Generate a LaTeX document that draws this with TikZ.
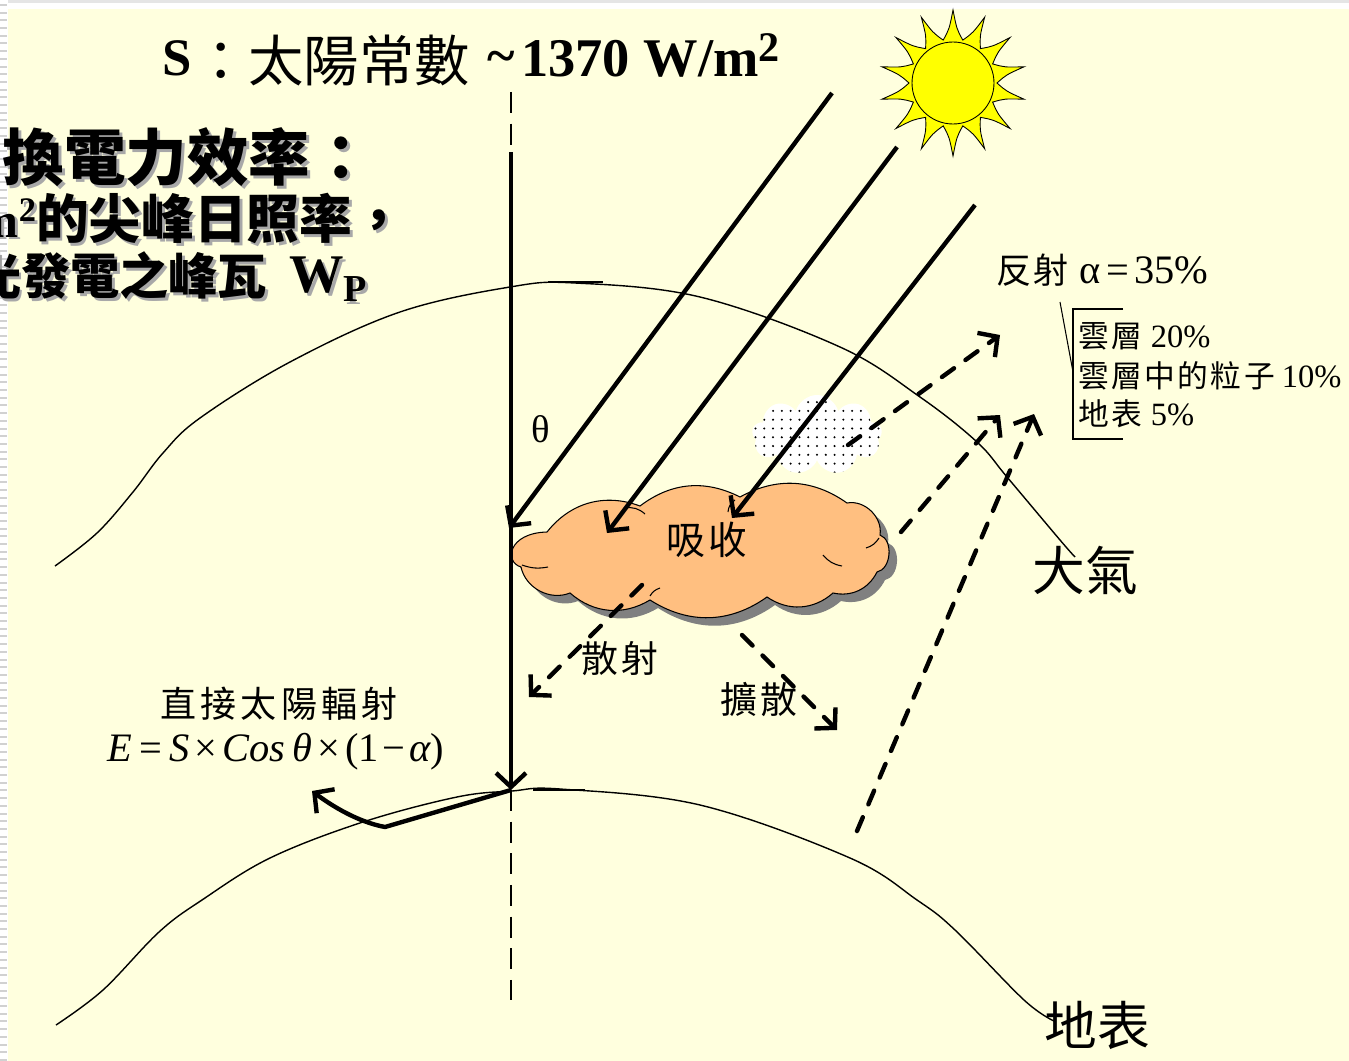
\documentclass[tikz,border=0pt]{standalone}
\usepackage{fontspec}
\setmainfont{Liberation Serif}
\newfontfamily\cjk{Noto Sans CJK TC}[LetterSpace=8]
\newfontfamily\cjkw{Noto Sans CJK TC}[LetterSpace=12]
\newfontfamily\cjkt{Noto Sans CJK TC}
\usetikzlibrary{arrows.meta,shapes.symbols,patterns.meta}
\definecolor{paper}{RGB}{255,255,222}
\definecolor{cloudfill}{RGB}{255,191,128}
\definecolor{cloudshadow}{RGB}{128,128,128}
\definecolor{txtshadow}{RGB}{168,168,168}
\definecolor{sunyellow}{RGB}{255,255,0}
\newcommand\fs[1]{\fontsize{#1}{#1}\selectfont}
% text with a soft grey drop shadow: name, position, anchor, content
\newcommand\shadowed[4]{%
  \node[lbl, anchor=#3, text=txtshadow, xshift=0.06cm, yshift=-0.06cm] (#1s) at #2 {#4};
  \node[lbl, anchor=#3] (#1) at #2 {#4};}
% outline of the absorbing cloud, bump by bump (clockwise)
\newcommand\absorbcloud{(547,532) to[bend left=36] (640,506) to[bend left=32] (740,497)
  to[bend left=32] (847,503) to[bend left=55] (880,535) to[bend left=75] (877,572)
  to[bend left=38] (833,593) to[bend left=38] (767,597) to[bend left=34] (650,600)
  to[bend left=36] (570,593) to[bend left=50] (521,567)
  .. controls (504,562) and (508,533) .. (547,532) -- cycle}
\tikzset{
  lbl/.style={inner sep=0pt, outer sep=0pt},
  thincurve/.style={line width=0.8pt},
  axisdash/.style={line width=0.8pt, dash pattern=on 12pt off 6pt},
  barb/.tip={Straight Barb[length=8pt,width=17pt]},
  ray/.style={line width=2.5pt, -barb},
  dray/.style={line width=2.5pt, -barb, dash pattern=on 8.5pt off 8pt, line cap=round},
  puffy/.style={cloud, cloud ignores aspect, inner sep=0pt},
  crease/.style={line width=0.6pt},
}
\begin{document}
\begin{tikzpicture}[x=0.02cm,y=-0.02cm]
\useasboundingbox (0,0) rectangle (1349,1061);
\clip (0,0) rectangle (1349,1061);
% paper and window frame
\fill[paper] (0,0) rectangle (1349,1061);
\fill[white] (0,0) rectangle (1349,9);
\fill[black!10] (0,0) rectangle (1349,3);
\fill[white] (0,0) rectangle (8,1061);
\foreach \yy in {4,11.7,...,1061} \fill[black!18] (0,\yy) rectangle (7,\yy+2);

% sun
\begin{scope}[shift={(953,83)}]
  \filldraw[fill=sunyellow, draw=black, line width=0.5pt]
    (-90-12.857:44) \foreach \k in {0,...,13} {
      .. controls ({-90+\k*25.714-4}:54) .. ({-90+\k*25.714}:73)
      .. controls ({-90+\k*25.714+4}:54) .. ({-90+\k*25.714+12.857}:44) } -- cycle;
  \filldraw[fill=sunyellow, draw=black, line width=0.5pt] (0,0) circle[radius=41];
\end{scope}

% atmosphere and ground outlines
\draw[thincurve] plot[smooth, tension=0.6] coordinates {(55,566) (97,533) (133,492) (163,453) (200,418) (290,362) (400,312) (510,287) (575,283) (700,297) (840,347) (920,397) (977,442) (1007,477) (1060,540) (1075,557)};
\draw[line width=1.3pt] (548,282) -- (603,282);
\draw[thincurve] plot[smooth, tension=0.6] coordinates {(56,1025) (103,990) (159,932) (202,900) (270,858) (363,822) (457,797) (512,791) (560,789) (700,805) (850,858) (917,900) (955,930) (1024,1000) (1054,1021)};
\draw[line width=1.3pt] (533,790) -- (585,790);

% named points
\coordinate (vtop) at (511,92);
\coordinate (vdash) at (511,148);
\coordinate (vs) at (511,152);
\coordinate (vg) at (511,790);
\coordinate (vbot) at (511,1000);
\coordinate (r1a) at (832,93);  \coordinate (r1b) at (509,528);
\coordinate (r2a) at (897,147); \coordinate (r2b) at (607,533);
\coordinate (r3a) at (975,205); \coordinate (r3b) at (732,518);
\coordinate (fa0) at (848,445); \coordinate (fa1) at (1000,335);
\coordinate (fb0) at (901,532); \coordinate (fb1) at (1000,415);
\coordinate (fc0) at (857,831); \coordinate (fc1) at (1034,414);
\coordinate (sc0) at (642,585); \coordinate (sc1) at (529,697);
\coordinate (df0) at (742,635); \coordinate (df1) at (837,730);
\coordinate (gbend) at (385,827); \coordinate (gend) at (312,791);
\coordinate (brA) at (1123,309); \coordinate (brB) at (1073,309);
\coordinate (brC) at (1073,439); \coordinate (brD) at (1123,439);
\coordinate (ldA) at (1060,302); \coordinate (ldB) at (1073,372);

% zenith axis
\draw[axisdash] (vtop) -- (vdash);
\draw[axisdash] (vg) -- (vbot);

% absorbing cloud with its shadow
\fill[cloudshadow, shift={(8,8)}] \absorbcloud;
\filldraw[fill=cloudfill, draw=black, line width=0.6pt] \absorbcloud;
\draw[crease] (625,508) to[bend left=25] (645,514);
\draw[crease] (735,500) to[bend right=25] (728,512);
\draw[crease] (823,555) to[bend right=20] (842,566);
\draw[crease] (866,548) to[bend right=20] (879,538);
\draw[crease] (650,596) to[bend left=20] (660,588);
\draw[crease] (522,565) to[bend right=15] (548,567);
% scattering cloud
\node[puffy, cloud puffs=9, minimum width=2.6cm, minimum height=1.6cm, preaction={fill=white}, pattern={Dots[distance=5pt,radius=0.65pt]}] (dotcloud) at (817,435) {};

% incoming radiation
\draw[ray] (vs) -- (vg);
\draw[ray] (r1a) -- (r1b);
\draw[ray] (r2a) -- (r2b);
\draw[ray] (r3a) -- (r3b);

% reflected and scattered radiation
\draw[dray] (fa0) -- (fa1);
\draw[dray] (fb0) -- (fb1);
\draw[dray] (fc0) -- (fc1);
\draw[dray] (sc0) -- (sc1);
\draw[dray] (df0) -- (df1);
\draw[line width=2.5pt, line join=round, -barb] (vg) -- (gbend) .. controls (358,822) and (332,806) .. (gend);

% albedo bracket
\draw[line width=0.6pt] (brA) -- (brB) -- (brC) -- (brD);
\draw[line width=0.6pt] (ldA) -- (ldB);

% title
\node[lbl] (tS) at (177,58) {\fs{30pt}\bfseries S};
\node[lbl, anchor=west] (tCJK) at (193,60) {\fs{31.5pt}\cjkt ：太陽常數};
\node[lbl] (tTilde) at (501,62) {\fs{30pt}\bfseries\textasciitilde};
\node[lbl, anchor=base west] (tVal) at (521,77) {\fs{31pt}\bfseries 1370 W/m\textsuperscript{\fs{24pt}2}};

% side note
\shadowed{l1}{(3,157)}{west}{\fs{35pt}\cjkt\bfseries 換電力效率：}
\shadowed{l2a}{(37,237)}{base east}{\fs{28pt}\bfseries m\textsuperscript{2}}
\shadowed{l2b}{(36,218)}{west}{\fs{30pt}\cjkt\bfseries 的尖峰日照率，}
\shadowed{l3a}{(-28,276)}{west}{\fs{28pt}\cjkt\bfseries 光發電之峰瓦}
\shadowed{l3b}{(289,292)}{base west}{\fs{31pt}\bfseries W\textsubscript{P}}

% labels
\node[lbl, anchor=west] (refl) at (996,270) {{\fs{20pt}\cjk 反射}\kern6pt{\fs{23pt}α\kern3pt=\kern3pt35\%}};
\node[lbl, anchor=west] (b1) at (1078,336) {{\fs{17.5pt}\cjk 雲層}\kern5pt{\fs{18.5pt}20\%}};
\node[lbl, anchor=west] (b2) at (1078,376) {{\fs{17.5pt}\cjk 雲層中的粒子}\kern4pt{\fs{18.5pt}10\%}};
\node[lbl, anchor=west] (b3) at (1078,414) {{\fs{17.5pt}\cjk 地表}\kern5pt{\fs{18.5pt}5\%}};
\node[lbl] (theta) at (541,429) {\fs{22pt}θ};
\node[lbl] (absorb) at (707,540) {\fs{22pt}\cjk 吸收};
\node[lbl] (scat) at (620,659) {\fs{21pt}\cjk 散射};
\node[lbl] (diff) at (759,700) {\fs{21pt}\cjk 擴散};
\node[lbl] (direct) at (279,704) {\fs{20.5pt}\cjkw 直接太陽輻射};
\node[lbl] (formula) at (276,752) {\fs{23pt}\textit{E}\kern4pt=\kern4pt\textit{S}\kern3pt×\kern3pt\textit{Cos}\,\textit{θ}\kern3pt×\kern3pt(1\kern2pt−\kern2pt\textit{α})};
\node[lbl] (atmo) at (1085,570) {\fs{30pt}\cjkt 大氣};
\node[lbl] (ground) at (1097,1025) {\fs{30pt}\cjkt 地表};
\end{tikzpicture}
\end{document}
